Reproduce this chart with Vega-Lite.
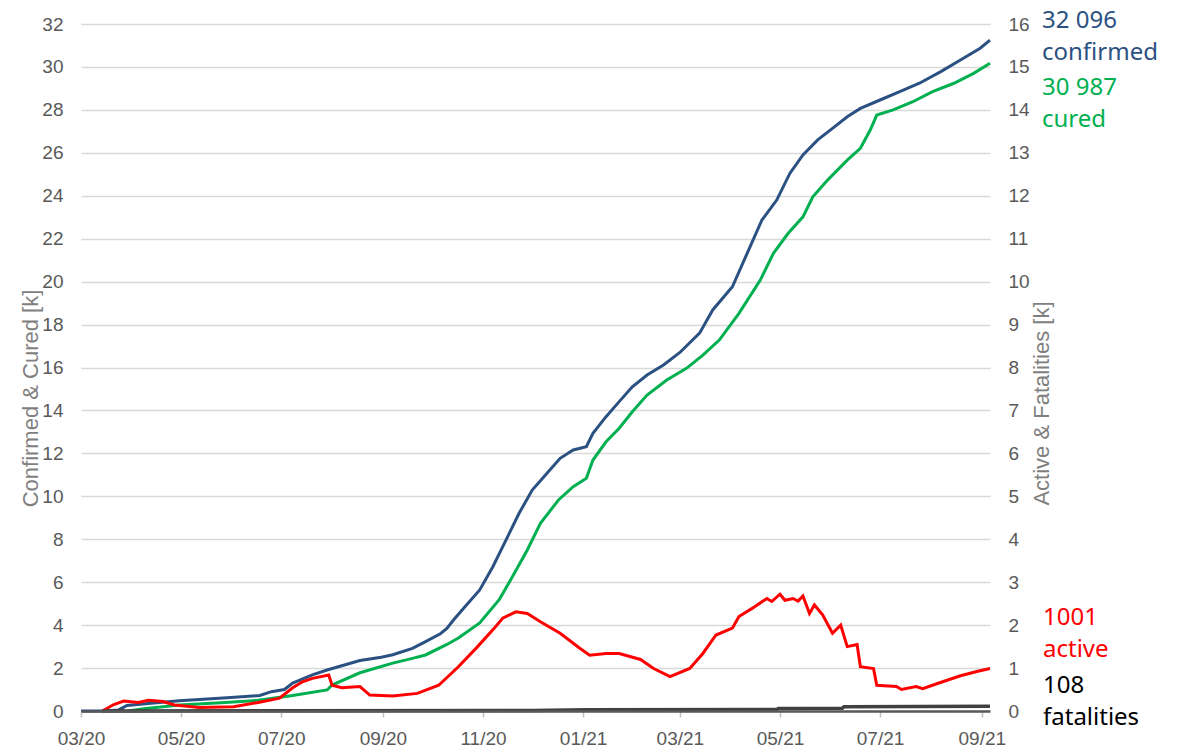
{
  "$schema": "https://vega.github.io/schema/vega-lite/v6.json",
  "width": 909,
  "height": 687,
  "autosize": {"type": "none"},
  "padding": {"left": 81, "top": 24, "right": 189, "bottom": 38},
  "background": "white",
  "config": {"view": {"stroke": null}, "font": "Liberation Sans"},
  "datasets": {
    "series": [
      {"series": "confirmed", "date": "2020-03-01", "value": 0},
      {"series": "confirmed", "date": "2020-03-15", "value": 0},
      {"series": "confirmed", "date": "2020-03-24", "value": 0.05},
      {"series": "confirmed", "date": "2020-03-29", "value": 0.26},
      {"series": "confirmed", "date": "2020-04-11", "value": 0.35},
      {"series": "confirmed", "date": "2020-04-30", "value": 0.48},
      {"series": "confirmed", "date": "2020-05-29", "value": 0.62},
      {"series": "confirmed", "date": "2020-06-18", "value": 0.72},
      {"series": "confirmed", "date": "2020-06-25", "value": 0.9},
      {"series": "confirmed", "date": "2020-07-03", "value": 1.0},
      {"series": "confirmed", "date": "2020-07-08", "value": 1.3},
      {"series": "confirmed", "date": "2020-07-20", "value": 1.68},
      {"series": "confirmed", "date": "2020-07-29", "value": 1.91},
      {"series": "confirmed", "date": "2020-08-18", "value": 2.35},
      {"series": "confirmed", "date": "2020-08-31", "value": 2.5},
      {"series": "confirmed", "date": "2020-09-07", "value": 2.62},
      {"series": "confirmed", "date": "2020-09-19", "value": 2.92},
      {"series": "confirmed", "date": "2020-09-27", "value": 3.23},
      {"series": "confirmed", "date": "2020-10-06", "value": 3.6},
      {"series": "confirmed", "date": "2020-10-10", "value": 3.85},
      {"series": "confirmed", "date": "2020-10-14", "value": 4.24},
      {"series": "confirmed", "date": "2020-10-21", "value": 4.86},
      {"series": "confirmed", "date": "2020-10-30", "value": 5.64},
      {"series": "confirmed", "date": "2020-11-07", "value": 6.72},
      {"series": "confirmed", "date": "2020-11-15", "value": 7.96},
      {"series": "confirmed", "date": "2020-11-23", "value": 9.21},
      {"series": "confirmed", "date": "2020-12-01", "value": 10.29},
      {"series": "confirmed", "date": "2020-12-10", "value": 11.07},
      {"series": "confirmed", "date": "2020-12-18", "value": 11.77},
      {"series": "confirmed", "date": "2020-12-26", "value": 12.16},
      {"series": "confirmed", "date": "2021-01-03", "value": 12.31},
      {"series": "confirmed", "date": "2021-01-07", "value": 12.93},
      {"series": "confirmed", "date": "2021-01-15", "value": 13.71},
      {"series": "confirmed", "date": "2021-01-23", "value": 14.41},
      {"series": "confirmed", "date": "2021-01-31", "value": 15.1},
      {"series": "confirmed", "date": "2021-02-09", "value": 15.65},
      {"series": "confirmed", "date": "2021-02-19", "value": 16.12},
      {"series": "confirmed", "date": "2021-03-01", "value": 16.7},
      {"series": "confirmed", "date": "2021-03-13", "value": 17.6},
      {"series": "confirmed", "date": "2021-03-21", "value": 18.68},
      {"series": "confirmed", "date": "2021-04-02", "value": 19.76},
      {"series": "confirmed", "date": "2021-04-11", "value": 21.32},
      {"series": "confirmed", "date": "2021-04-20", "value": 22.87},
      {"series": "confirmed", "date": "2021-04-29", "value": 23.8},
      {"series": "confirmed", "date": "2021-05-07", "value": 25.04},
      {"series": "confirmed", "date": "2021-05-15", "value": 25.9},
      {"series": "confirmed", "date": "2021-05-24", "value": 26.6},
      {"series": "confirmed", "date": "2021-06-02", "value": 27.14},
      {"series": "confirmed", "date": "2021-06-11", "value": 27.68},
      {"series": "confirmed", "date": "2021-06-19", "value": 28.07},
      {"series": "confirmed", "date": "2021-07-01", "value": 28.46},
      {"series": "confirmed", "date": "2021-07-13", "value": 28.85},
      {"series": "confirmed", "date": "2021-07-25", "value": 29.24},
      {"series": "confirmed", "date": "2021-08-07", "value": 29.78},
      {"series": "confirmed", "date": "2021-08-19", "value": 30.32},
      {"series": "confirmed", "date": "2021-08-31", "value": 30.87},
      {"series": "confirmed", "date": "2021-09-06", "value": 31.25},

      {"series": "cured", "date": "2020-03-30", "value": 0},
      {"series": "cured", "date": "2020-04-08", "value": 0.1},
      {"series": "cured", "date": "2020-04-20", "value": 0.2},
      {"series": "cured", "date": "2020-04-30", "value": 0.28},
      {"series": "cured", "date": "2020-05-28", "value": 0.4},
      {"series": "cured", "date": "2020-06-17", "value": 0.5},
      {"series": "cured", "date": "2020-07-08", "value": 0.72},
      {"series": "cured", "date": "2020-07-29", "value": 0.98},
      {"series": "cured", "date": "2020-08-01", "value": 1.21},
      {"series": "cured", "date": "2020-08-18", "value": 1.78},
      {"series": "cured", "date": "2020-09-07", "value": 2.23},
      {"series": "cured", "date": "2020-09-19", "value": 2.45},
      {"series": "cured", "date": "2020-09-27", "value": 2.61},
      {"series": "cured", "date": "2020-10-10", "value": 3.1},
      {"series": "cured", "date": "2020-10-17", "value": 3.4},
      {"series": "cured", "date": "2020-10-30", "value": 4.1},
      {"series": "cured", "date": "2020-11-11", "value": 5.2},
      {"series": "cured", "date": "2020-11-19", "value": 6.26},
      {"series": "cured", "date": "2020-11-28", "value": 7.5},
      {"series": "cured", "date": "2020-12-06", "value": 8.74},
      {"series": "cured", "date": "2020-12-17", "value": 9.83},
      {"series": "cured", "date": "2020-12-26", "value": 10.45},
      {"series": "cured", "date": "2021-01-03", "value": 10.84},
      {"series": "cured", "date": "2021-01-07", "value": 11.69},
      {"series": "cured", "date": "2021-01-15", "value": 12.54},
      {"series": "cured", "date": "2021-01-23", "value": 13.17},
      {"series": "cured", "date": "2021-01-31", "value": 13.94},
      {"series": "cured", "date": "2021-02-09", "value": 14.72},
      {"series": "cured", "date": "2021-02-21", "value": 15.42},
      {"series": "cured", "date": "2021-03-05", "value": 15.96},
      {"series": "cured", "date": "2021-03-15", "value": 16.58},
      {"series": "cured", "date": "2021-03-25", "value": 17.28},
      {"series": "cured", "date": "2021-04-06", "value": 18.52},
      {"series": "cured", "date": "2021-04-19", "value": 20.07},
      {"series": "cured", "date": "2021-04-27", "value": 21.32},
      {"series": "cured", "date": "2021-05-06", "value": 22.25},
      {"series": "cured", "date": "2021-05-15", "value": 23.02},
      {"series": "cured", "date": "2021-05-21", "value": 23.95},
      {"series": "cured", "date": "2021-05-30", "value": 24.73},
      {"series": "cured", "date": "2021-06-11", "value": 25.66},
      {"series": "cured", "date": "2021-06-19", "value": 26.21},
      {"series": "cured", "date": "2021-06-25", "value": 27.06},
      {"series": "cured", "date": "2021-06-29", "value": 27.76},
      {"series": "cured", "date": "2021-07-09", "value": 28.0},
      {"series": "cured", "date": "2021-07-21", "value": 28.38},
      {"series": "cured", "date": "2021-08-02", "value": 28.85},
      {"series": "cured", "date": "2021-08-15", "value": 29.24},
      {"series": "cured", "date": "2021-08-27", "value": 29.7},
      {"series": "cured", "date": "2021-09-06", "value": 30.17},

      {"series": "active", "date": "2020-03-14", "value": 0},
      {"series": "active", "date": "2020-03-21", "value": 0.15},
      {"series": "active", "date": "2020-03-27", "value": 0.23},
      {"series": "active", "date": "2020-04-05", "value": 0.2},
      {"series": "active", "date": "2020-04-11", "value": 0.25},
      {"series": "active", "date": "2020-04-20", "value": 0.22},
      {"series": "active", "date": "2020-04-27", "value": 0.14},
      {"series": "active", "date": "2020-05-12", "value": 0.08},
      {"series": "active", "date": "2020-06-02", "value": 0.1},
      {"series": "active", "date": "2020-06-17", "value": 0.2},
      {"series": "active", "date": "2020-06-30", "value": 0.3},
      {"series": "active", "date": "2020-07-08", "value": 0.54},
      {"series": "active", "date": "2020-07-14", "value": 0.68},
      {"series": "active", "date": "2020-07-20", "value": 0.76},
      {"series": "active", "date": "2020-07-30", "value": 0.84},
      {"series": "active", "date": "2020-08-01", "value": 0.6},
      {"series": "active", "date": "2020-08-07", "value": 0.54},
      {"series": "active", "date": "2020-08-18", "value": 0.57},
      {"series": "active", "date": "2020-08-24", "value": 0.37},
      {"series": "active", "date": "2020-09-07", "value": 0.35},
      {"series": "active", "date": "2020-09-22", "value": 0.41},
      {"series": "active", "date": "2020-10-05", "value": 0.6},
      {"series": "active", "date": "2020-10-17", "value": 1.03},
      {"series": "active", "date": "2020-10-28", "value": 1.47},
      {"series": "active", "date": "2020-11-07", "value": 1.89},
      {"series": "active", "date": "2020-11-13", "value": 2.16},
      {"series": "active", "date": "2020-11-21", "value": 2.31},
      {"series": "active", "date": "2020-11-28", "value": 2.27},
      {"series": "active", "date": "2020-12-06", "value": 2.08},
      {"series": "active", "date": "2020-12-18", "value": 1.81},
      {"series": "active", "date": "2020-12-30", "value": 1.46},
      {"series": "active", "date": "2021-01-05", "value": 1.3},
      {"series": "active", "date": "2021-01-15", "value": 1.34},
      {"series": "active", "date": "2021-01-23", "value": 1.34},
      {"series": "active", "date": "2021-02-05", "value": 1.2},
      {"series": "active", "date": "2021-02-13", "value": 0.99},
      {"series": "active", "date": "2021-02-23", "value": 0.8},
      {"series": "active", "date": "2021-03-07", "value": 0.99},
      {"series": "active", "date": "2021-03-15", "value": 1.34},
      {"series": "active", "date": "2021-03-23", "value": 1.77},
      {"series": "active", "date": "2021-04-02", "value": 1.93},
      {"series": "active", "date": "2021-04-06", "value": 2.2},
      {"series": "active", "date": "2021-04-14", "value": 2.39},
      {"series": "active", "date": "2021-04-23", "value": 2.62},
      {"series": "active", "date": "2021-04-26", "value": 2.55},
      {"series": "active", "date": "2021-05-01", "value": 2.72},
      {"series": "active", "date": "2021-05-04", "value": 2.58},
      {"series": "active", "date": "2021-05-09", "value": 2.62},
      {"series": "active", "date": "2021-05-12", "value": 2.56},
      {"series": "active", "date": "2021-05-15", "value": 2.68},
      {"series": "active", "date": "2021-05-19", "value": 2.27},
      {"series": "active", "date": "2021-05-22", "value": 2.47},
      {"series": "active", "date": "2021-05-27", "value": 2.24},
      {"series": "active", "date": "2021-06-02", "value": 1.81},
      {"series": "active", "date": "2021-06-07", "value": 2.0},
      {"series": "active", "date": "2021-06-11", "value": 1.5},
      {"series": "active", "date": "2021-06-17", "value": 1.55},
      {"series": "active", "date": "2021-06-19", "value": 1.03},
      {"series": "active", "date": "2021-06-27", "value": 0.99},
      {"series": "active", "date": "2021-06-29", "value": 0.6},
      {"series": "active", "date": "2021-07-11", "value": 0.57},
      {"series": "active", "date": "2021-07-14", "value": 0.5},
      {"series": "active", "date": "2021-07-23", "value": 0.57},
      {"series": "active", "date": "2021-07-27", "value": 0.52},
      {"series": "active", "date": "2021-08-05", "value": 0.64},
      {"series": "active", "date": "2021-08-19", "value": 0.82},
      {"series": "active", "date": "2021-08-29", "value": 0.92},
      {"series": "active", "date": "2021-09-06", "value": 0.99},

      {"series": "fatalities", "date": "2020-03-14", "value": 0},
      {"series": "fatalities", "date": "2020-07-01", "value": 0.005},
      {"series": "fatalities", "date": "2020-12-01", "value": 0.012},
      {"series": "fatalities", "date": "2021-01-04", "value": 0.028},
      {"series": "fatalities", "date": "2021-04-29", "value": 0.035},
      {"series": "fatalities", "date": "2021-04-30", "value": 0.06},
      {"series": "fatalities", "date": "2021-06-08", "value": 0.065},
      {"series": "fatalities", "date": "2021-06-09", "value": 0.1},
      {"series": "fatalities", "date": "2021-09-06", "value": 0.108}
    ],
    "labels": [
      {"series": "confirmed", "date": "2021-09-06", "value": 32.096, "text": "32 096\nconfirmed"},
      {"series": "cured", "date": "2021-09-06", "value": 30.987, "text": "30 987\ncured"},
      {"series": "active", "date": "2021-09-06", "value": 1.001, "text": "1001\nactive"},
      {"series": "fatalities", "date": "2021-09-06", "value": 0.108, "text": "108\nfatalities"}
    ]
  },
  "encoding": {
    "x": {
      "field": "date",
      "type": "temporal",
      "scale": {
        "type": "utc",
        "domain": [
          {"year": 2020, "month": 3, "date": 1, "utc": true},
          {"year": 2021, "month": 9, "date": 6, "utc": true}
        ]
      },
      "axis": {
        "values": [
          {"year": 2020, "month": 3, "date": 1, "utc": true},
          {"year": 2020, "month": 5, "date": 1, "utc": true},
          {"year": 2020, "month": 7, "date": 1, "utc": true},
          {"year": 2020, "month": 9, "date": 1, "utc": true},
          {"year": 2020, "month": 11, "date": 1, "utc": true},
          {"year": 2021, "month": 1, "date": 1, "utc": true},
          {"year": 2021, "month": 3, "date": 1, "utc": true},
          {"year": 2021, "month": 5, "date": 1, "utc": true},
          {"year": 2021, "month": 7, "date": 1, "utc": true},
          {"year": 2021, "month": 9, "date": 1, "utc": true}
        ],
        "format": "%m/%y",
        "title": null,
        "grid": false,
        "labelFontSize": 19,
        "labelColor": "#595959",
        "labelPadding": 12,
        "labelFlush": false,
        "labelOverlap": false,
        "tickSize": 6,
        "tickColor": "#bfbfbf",
        "tickWidth": 1.5,
        "domainColor": "#595959",
        "domainWidth": 2.5,
        "zindex": 1
      }
    }
  },
  "layer": [
    {
      "encoding": {
        "y": {
          "field": "value",
          "type": "quantitative",
          "scale": {"domain": [0, 32], "nice": false},
          "axis": {
            "orient": "left",
            "values": [0, 2, 4, 6, 8, 10, 12, 14, 16, 18, 20, 22, 24, 26, 28, 30, 32],
            "grid": true,
            "gridColor": "#d9d9d9",
            "gridWidth": 1.5,
            "domain": false,
            "ticks": false,
            "labelFontSize": 19,
            "labelColor": "#595959",
            "labelPadding": 18,
            "title": "Confirmed & Cured [k]",
            "titleColor": "#7f7f7f",
            "titleFontSize": 22,
            "titleFontWeight": "normal",
            "titleX": -51,
            "titleY": 374,
            "titleAngle": 270,
            "titleAlign": "center",
            "titleBaseline": "middle"
          }
        }
      },
      "layer": [
        {
          "data": {"name": "series"},
          "transform": [{"filter": "datum.series === 'confirmed'"}],
          "mark": {"type": "line", "color": "#2b5182", "strokeWidth": 3}
        },
        {
          "data": {"name": "series"},
          "transform": [{"filter": "datum.series === 'cured'"}],
          "mark": {"type": "line", "color": "#00b050", "strokeWidth": 3}
        },
        {
          "data": {"name": "labels"},
          "transform": [{"filter": "datum.series === 'confirmed'"}],
          "mark": {"type": "text", "align": "left", "baseline": "alphabetic", "dx": 52, "dy": 6, "font": "Noto Sans", "fontSize": 24, "lineBreak": "\n", "lineHeight": 32, "color": "#2b5182"},
          "encoding": {"text": {"field": "text"}}
        },
        {
          "data": {"name": "labels"},
          "transform": [{"filter": "datum.series === 'cured'"}],
          "mark": {"type": "text", "align": "left", "baseline": "alphabetic", "dx": 52, "dy": 49, "font": "Noto Sans", "fontSize": 24, "lineBreak": "\n", "lineHeight": 32, "color": "#00b050"},
          "encoding": {"text": {"field": "text"}}
        }
      ]
    },
    {
      "encoding": {
        "y": {
          "field": "value",
          "type": "quantitative",
          "scale": {"domain": [0, 16], "nice": false},
          "axis": {
            "orient": "right",
            "values": [0, 1, 2, 3, 4, 5, 6, 7, 8, 9, 10, 11, 12, 13, 14, 15, 16],
            "grid": false,
            "domain": false,
            "ticks": false,
            "labelFontSize": 19,
            "labelColor": "#595959",
            "labelPadding": 18,
            "title": "Active & Fatalities [k]",
            "titleColor": "#7f7f7f",
            "titleFontSize": 22,
            "titleFontWeight": "normal",
            "titleX": 51,
            "titleY": 379,
            "titleAngle": 270,
            "titleAlign": "center",
            "titleBaseline": "middle"
          }
        }
      },
      "layer": [
        {
          "data": {"name": "series"},
          "transform": [{"filter": "datum.series === 'active'"}],
          "mark": {"type": "line", "color": "#ff0000", "strokeWidth": 3}
        },
        {
          "data": {"name": "series"},
          "transform": [{"filter": "datum.series === 'fatalities'"}],
          "mark": {"type": "line", "color": "#404040", "strokeWidth": 3.5}
        },
        {
          "data": {"name": "labels"},
          "transform": [{"filter": "datum.series === 'active'"}],
          "mark": {"type": "text", "align": "left", "baseline": "alphabetic", "dx": 53, "dy": -43, "font": "Noto Sans", "fontSize": 24, "lineBreak": "\n", "lineHeight": 32, "color": "#ff0000"},
          "encoding": {"text": {"field": "text"}}
        },
        {
          "data": {"name": "labels"},
          "transform": [{"filter": "datum.series === 'fatalities'"}],
          "mark": {"type": "text", "align": "left", "baseline": "alphabetic", "dx": 53, "dy": -13, "font": "Noto Sans", "fontSize": 24, "lineBreak": "\n", "lineHeight": 32, "color": "#000000"},
          "encoding": {"text": {"field": "text"}}
        }
      ]
    }
  ],
  "resolve": {"scale": {"y": "independent"}}
}
